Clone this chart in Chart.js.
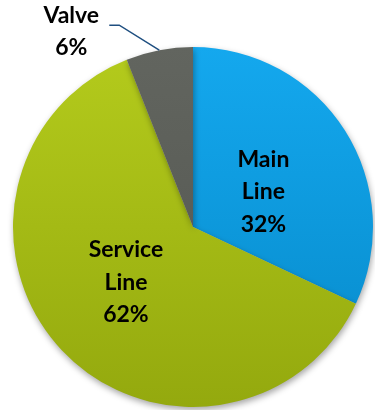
<!DOCTYPE html>
<html lang="en">
<head>
<meta charset="UTF-8">
<title>Leak Location Pie</title>
<script src="https://cdn.jsdelivr.net/npm/chart.js@4.4.1/dist/chart.umd.min.js"></script>
<style>
  body { margin: 0; padding: 0; background: #ffffff; }
  .chart-box { width: 375px; height: 410px; position: relative; }
</style>
</head>
<body>
<div class="chart-box">
  <canvas id="pieChart"></canvas>
</div>
<script>
// data
const categories = ['Main Line', 'Service Line', 'Valve'];
const labelLines = [['Main', 'Line'], ['Service', 'Line'], ['Valve']];
const shares = [32, 62, 6];

// slice colours: [light top, dark bottom]
const sliceColors = [
  ['#14a8ee', '#0689c9'],
  ['#b4cb1c', '#94a90e'],
  ['#62655f', '#52554f']
];

function sliceFill(ctx) {
  const chart = ctx.chart;
  const area = chart.chartArea;
  if (!area) return sliceColors[ctx.dataIndex][0];
  const g = chart.ctx.createLinearGradient(0, area.top, 0, area.bottom);
  g.addColorStop(0, sliceColors[ctx.dataIndex][0]);
  g.addColorStop(1, sliceColors[ctx.dataIndex][1]);
  return g;
}

// soft shadow under the pie
const shadowPlugin = {
  id: 'shadow',
  beforeDatasetDraw(chart) {
    const c = chart.ctx;
    c.save();
    c.shadowColor = 'rgba(0,0,0,0.35)';
    c.shadowBlur = 6;
    c.shadowOffsetX = 1;
    c.shadowOffsetY = 3;
  },
  afterDatasetDraw(chart) {
    chart.ctx.restore();
  }
};

// labels inside the slices, valve label outside with a leader line
const labelPlugin = {
  id: 'sliceLabels',
  afterDatasetsDraw(chart) {
    const c = chart.ctx;
    const arcs = chart.getDatasetMeta(0).data;
    c.save();
    c.font = 'bold 23px Lato, "Open Sans", sans-serif';
    c.fillStyle = '#000';
    c.textAlign = 'center';
    c.textBaseline = 'middle';
    const lh = 32.5;
    arcs.forEach((arc, i) => {
      const mid = (arc.startAngle + arc.endAngle) / 2;
      const lines = labelLines[i].concat([shares[i] + '%']);
      if (shares[i] < 10) {
        // outside label
        const ex = arc.x + arc.outerRadius * Math.cos(mid);
        const ey = arc.y + arc.outerRadius * Math.sin(mid);
        const kx = ex - 40, ky = ey - 25;
        c.strokeStyle = '#1f4f80';
        c.lineWidth = 1.5;
        c.beginPath();
        c.moveTo(ex, ey);
        c.lineTo(kx, ky);
        c.lineTo(kx - 10, ky);
        c.stroke();
        const tx = kx - 48;
        lines.forEach((t, j) => c.fillText(t, tx, ky - 10 + j * lh));
      } else {
        const r = arc.outerRadius * 0.45;
        const cx = arc.x + r * Math.cos(mid) + (i === 1 ? -8 : 2);
        const cy = arc.y + r * Math.sin(mid) + (i === 1 ? 0 : 8);
        lines.forEach((t, j) => c.fillText(t, cx, cy + (j - (lines.length - 1) / 2) * lh));
      }
    });
    c.restore();
  }
};

const pieChart = new Chart(document.getElementById('pieChart').getContext('2d'), {
  type: 'pie',
  data: {
    labels: categories,
    datasets: [{
      data: shares,
      backgroundColor: sliceFill,
      borderWidth: 0
    }]
  },
  options: {
    responsive: true,
    maintainAspectRatio: false,
    animation: false,
    layout: { padding: { left: 13, right: 2, top: 47, bottom: 3 } },
    plugins: {
      legend: { display: false },
      tooltip: { enabled: false }
    }
  },
  plugins: [shadowPlugin, labelPlugin]
});
</script>
</body>
</html>
